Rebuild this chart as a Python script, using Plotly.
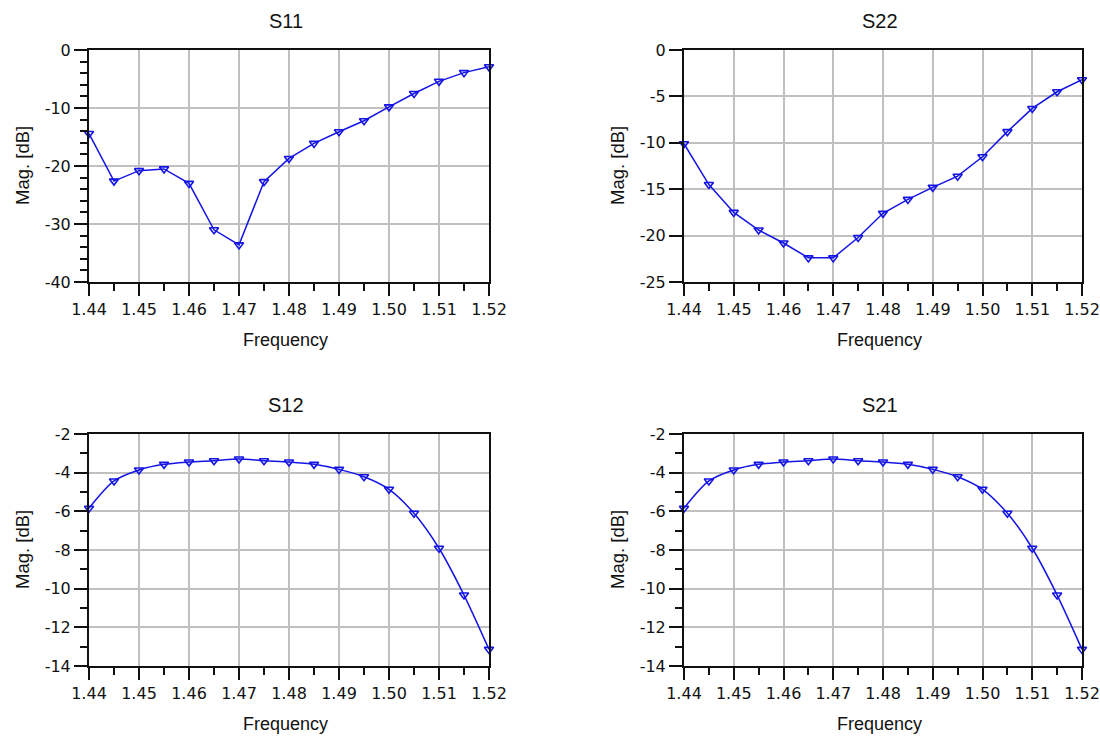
import plotly.graph_objects as go

freq = [1.44, 1.445, 1.45, 1.455, 1.46, 1.465, 1.47, 1.475, 1.48,
        1.485, 1.49, 1.495, 1.50, 1.505, 1.51, 1.515, 1.52]

s11 = [-14.4, -22.6, -20.8, -20.5, -23.0, -31.0, -33.6, -22.7, -18.7,
       -16.1, -14.1, -12.2, -9.8, -7.5, -5.4, -3.9, -2.9]
s22 = [-10.1, -14.5, -17.5, -19.4, -20.8, -22.4, -22.4, -20.2, -17.6,
       -16.1, -14.8, -13.6, -11.5, -8.8, -6.3, -4.5, -3.2]
s12 = [-5.84, -4.43, -3.86, -3.57, -3.45, -3.38, -3.29, -3.38, -3.45,
       -3.57, -3.83, -4.21, -4.86, -6.10, -7.91, -10.33, -13.14]
s21 = [-5.84, -4.43, -3.86, -3.57, -3.45, -3.38, -3.29, -3.38, -3.45,
       -3.57, -3.83, -4.21, -4.86, -6.10, -7.91, -10.33, -13.14]

titles = ["S11", "S22", "S12", "S21"]
y_ranges = [(-40, 0), (-25, 0), (-14, -2), (-14, -2)]
y_tickvals = [[0, -10, -20, -30, -40],
              [0, -5, -10, -15, -20, -25],
              [-2, -4, -6, -8, -10, -12, -14],
              [-2, -4, -6, -8, -10, -12, -14]]
y_minor = [2, None, 1, 1]
x_tickvals = [1.44, 1.45, 1.46, 1.47, 1.48, 1.49, 1.50, 1.51, 1.52]
x_ticktext = ["1.44", "1.45", "1.46", "1.47", "1.48", "1.49", "1.50", "1.51", "1.52"]
x_label = "Frequency"
y_label = "Mag. [dB]"

W, H = 1100, 736
FONT = "Arial, Liberation Sans, sans-serif"
TICKFONT = "DejaVu Sans, sans-serif"
BLUE = "#1414e6"

# panel pixel boxes: (left, right, top, bottom)
boxes = [(89, 489, 50, 282), (684, 1082, 50, 282),
         (89, 489, 434, 666), (684, 1082, 434, 666)]

series = [s11, s22, s12, s21]
shapes_line = ["linear", "linear", "spline", "spline"]

fig = go.Figure()
layout = dict(width=W, height=H, margin=dict(l=0, r=0, t=0, b=0, autoexpand=False),
              plot_bgcolor="white", paper_bgcolor="white",
              showlegend=False, font=dict(family=FONT, color="#111"))
annotations = []

for i in range(4):
    l, r, t, b = boxes[i]
    xa = "xaxis" if i == 0 else f"xaxis{i+1}"
    ya = "yaxis" if i == 0 else f"yaxis{i+1}"
    xref = "x" if i == 0 else f"x{i+1}"
    yref = "y" if i == 0 else f"y{i+1}"
    fig.add_trace(go.Scatter(
        x=freq, y=series[i], xaxis=xref, yaxis=yref, mode="lines+markers",
        line=dict(color=BLUE, width=1.5, shape=shapes_line[i], smoothing=0.8),
        marker=dict(symbol="triangle-down-open", size=8, color=BLUE,
                    line=dict(width=1.6, color=BLUE)),
        cliponaxis=False))
    layout[xa] = dict(
        domain=[l / W, r / W], anchor=yref, range=[1.44, 1.52],
        tickvals=x_tickvals, ticktext=x_ticktext, automargin=False,
        showgrid=True, gridcolor="#c0c0c0", gridwidth=2,
        showline=True, linecolor="#111", linewidth=2, mirror=True,
        ticks="outside", ticklen=12, tickwidth=2, tickcolor="#111",
        tickfont=dict(size=16, family=TICKFONT, color="#111"),
        minor=dict(dtick=0.005, tick0=1.44, ticks="outside", ticklen=7,
                   tickwidth=2, tickcolor="#111", showgrid=False),
        zeroline=False, fixedrange=True)
    ymin, ymax = y_ranges[i]
    ydict = dict(
        domain=[1 - b / H, 1 - t / H], anchor=xref, range=[ymin, ymax],
        tickvals=y_tickvals[i], ticktext=[str(v) for v in y_tickvals[i]],
        automargin=False,
        showgrid=True, gridcolor="#c0c0c0", gridwidth=2,
        showline=True, linecolor="#111", linewidth=2, mirror=True,
        ticks="outside", ticklen=13, tickwidth=2, tickcolor="#111",
        tickfont=dict(size=16, family=TICKFONT, color="#111"),
        zeroline=False, fixedrange=True)
    if y_minor[i]:
        ydict["minor"] = dict(dtick=y_minor[i], tick0=0, ticks="outside", ticklen=7,
                              tickwidth=2, tickcolor="#111", showgrid=False)
    layout[ya] = ydict

    cx = (l + r) / 2 / W
    annotations.append(dict(text=titles[i], x=(cx * W - 3) / W, y=1 - (t - 29) / H,
                            xref="paper", yref="paper", showarrow=False,
                            xanchor="center", yanchor="middle",
                            font=dict(size=20, family=FONT, color="#111")))
    annotations.append(dict(text=x_label, x=(cx * W - 4) / W, y=1 - (b + 58) / H,
                            xref="paper", yref="paper", showarrow=False,
                            xanchor="center", yanchor="middle",
                            font=dict(size=18, family=FONT, color="#111")))
    annotations.append(dict(text=y_label, x=(l - 67) / W, y=1 - ((t + b) / 2) / H,
                            xref="paper", yref="paper", showarrow=False,
                            textangle=-90, xanchor="center", yanchor="middle",
                            font=dict(size=18.5, family=FONT, color="#111")))

layout["annotations"] = annotations
fig.update_layout(**layout)
fig.write_html("out.html")
